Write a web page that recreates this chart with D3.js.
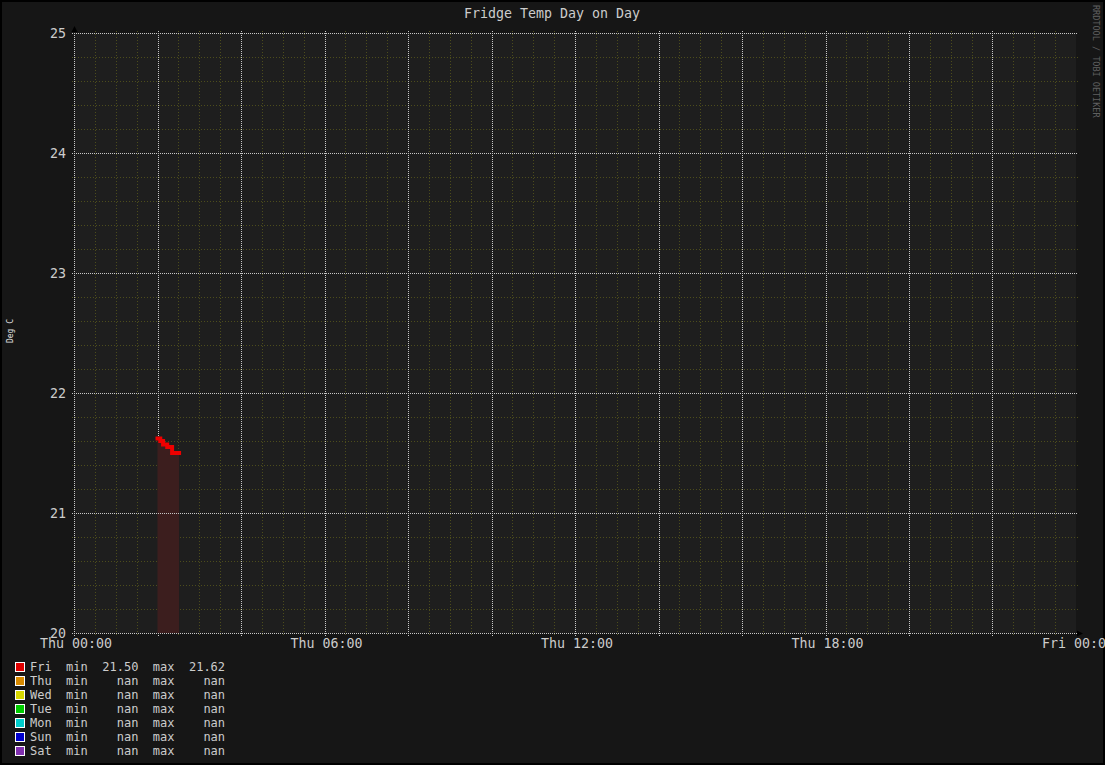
<!DOCTYPE html>
<html><head><meta charset="utf-8">
<script src="https://cdn.jsdelivr.net/npm/d3@7/dist/d3.min.js"></script>
<style>html,body{margin:0;padding:0;background:#161616;}svg{display:block;}</style>
</head><body>
<script>
const title = "Fridge Temp Day on Day";
const yLabel = "Deg C";
const watermark = "RRDTOOL / TOBI OETIKER";
const yTicks = [20, 21, 22, 23, 24, 25];
const xTickHours = [0, 6, 12, 18, 24];
const xTickLabels = ["Thu 00:00", "Thu 06:00", "Thu 12:00", "Thu 18:00", "Fri 00:00"];
// Fri series: minutes after midnight and values
const friMinutes = [120, 124, 128, 134, 141, 151];
const friValues = [21.62, 21.60, 21.57, 21.55, 21.50, 21.50];
const seriesNames = ["Fri", "Thu", "Wed", "Tue", "Mon", "Sun", "Sat"];
const seriesColors = ["#e00000", "#d88a00", "#d8d800", "#00cc00", "#00cccc", "#0000cc", "#8030b0"];
const seriesMin = ["21.50", "nan", "nan", "nan", "nan", "nan", "nan"];
const seriesMax = ["21.62", "nan", "nan", "nan", "nan", "nan", "nan"];

const W = 1105, H = 765;
const svg = d3.select("body").append("svg").attr("width", W).attr("height", H);
const FONT = "'DejaVu Sans Mono', monospace";

svg.append("rect").attr("width", W).attr("height", H).attr("fill", "#161616");
svg.append("rect").attr("x", 1).attr("y", 1).attr("width", W - 2).attr("height", H - 2)
  .attr("fill", "none").attr("stroke", "#000").attr("stroke-width", 2);

const x = d3.scaleLinear().domain([0, 24 * 60]).range([74, 1076]);
const y = d3.scaleLinear().domain([20, 25]).range([633, 33]);

svg.append("rect").attr("x", x(0)).attr("y", y(25)).attr("width", x(1440) - x(0)).attr("height", y(20) - y(25))
  .attr("fill", "#1e1e1e");

// minor grid
const minorX = d3.range(0, 1440, 30).filter(m => m % 120 !== 0);
const minorY = d3.range(20, 25.001, 0.2).filter(v => Math.abs(v - Math.round(v)) > 0.01);
const g = svg.append("g");
g.selectAll(".mx").data(minorX).join("line")
  .attr("x1", d => Math.round(x(d)) + 0.5).attr("x2", d => Math.round(x(d)) + 0.5).attr("y1", y(25) - 2).attr("y2", y(20) + 3)
  .attr("stroke", "#4c4c1c").attr("stroke-dasharray", "1,2");
g.selectAll(".my").data(minorY).join("line")
  .attr("y1", d => Math.round(y(d)) + 0.5).attr("y2", d => Math.round(y(d)) + 0.5).attr("x1", x(0) - 2).attr("x2", x(1440) + 2)
  .attr("stroke", "#4c4c1c").attr("stroke-dasharray", "1,2");

// data area + line
const pts = friMinutes.map((m, i) => [m, friValues[i]]);
const area = d3.area().x(d => x(d[0])).y0(y(20)).y1(d => y(d[1])).curve(d3.curveStepAfter);
svg.append("path").datum(pts).attr("d", area).attr("fill", "#3c1e1e");

// major grid
const majorX = d3.range(120, 1440, 120);
g.selectAll(".Mx").data(majorX).join("line")
  .attr("x1", d => Math.round(x(d)) + 0.5).attr("x2", d => Math.round(x(d)) + 0.5).attr("y1", y(25) - 2).attr("y2", y(20) + 3)
  .attr("stroke", "#c8c8c8").attr("stroke-dasharray", "1,1");
svg.append("g").selectAll("line").data(yTicks.filter(v => v > 20)).join("line")
  .attr("y1", d => y(d) + 0.5).attr("y2", d => y(d) + 0.5).attr("x1", x(0) - 2).attr("x2", x(1440) + 2)
  .attr("stroke", "#c8c8c8").attr("stroke-dasharray", "1,1");

// axes
svg.append("line").attr("x1", x(0) + 0.5).attr("x2", x(0) + 0.5).attr("y1", y(25) - 2).attr("y2", y(20) + 3)
  .attr("stroke", "#c8c8c8").attr("stroke-dasharray", "1,1");
svg.append("line").attr("x1", x(0) - 2).attr("x2", x(1440) + 2).attr("y1", y(20) + 0.5).attr("y2", y(20) + 0.5)
  .attr("stroke", "#c8c8c8").attr("stroke-dasharray", "1,1");
// arrows
svg.append("path").attr("d", `M${x(0) - 2.5},${y(25) - 1} L${x(0) + 3.5},${y(25) - 1} L${x(0) + 0.5},${y(25) - 7} Z`).attr("fill", "#000");
svg.append("path").attr("d", `M${x(1440) + 1},${y(20) - 2.5} L${x(1440) + 1},${y(20) + 3.5} L${x(1440) + 7},${y(20) + 0.5} Z`).attr("fill", "#000");

const line = d3.line().x(d => x(d[0])).y(d => y(d[1])).curve(d3.curveStepAfter);
svg.append("path").datum(pts).attr("d", line).attr("fill", "none").attr("stroke", "#ee0000")
  .attr("stroke-width", 4).attr("stroke-linejoin", "miter").attr("stroke-linecap", "square");

// tick labels
svg.append("g").selectAll("text").data(yTicks).join("text")
  .attr("x", 66).attr("y", d => y(d)).attr("dy", "0.35em").attr("text-anchor", "end")
  .attr("font-family", FONT).attr("font-size", 13.3).attr("fill", "#cccccc").text(d => d);
svg.append("g").selectAll("text").data(xTickHours).join("text")
  .attr("x", d => x(d * 60) + 2).attr("y", 648).attr("text-anchor", "middle")
  .attr("font-family", FONT).attr("font-size", 13.3).attr("fill", "#cccccc").text((d, i) => xTickLabels[i]);

// title
svg.append("text").attr("x", 552).attr("y", 18).attr("text-anchor", "middle")
  .attr("font-family", FONT).attr("font-size", 13.3).attr("fill", "#cccccc").text(title);

// y label
svg.append("text").attr("transform", "translate(13,331) rotate(-90)").attr("text-anchor", "middle")
  .attr("font-family", FONT).attr("font-size", 8).attr("fill", "#e0e0e0").text(yLabel);

// watermark
svg.append("text").attr("transform", "translate(1093,5) rotate(90)").attr("text-anchor", "start")
  .attr("font-family", FONT).attr("font-size", 8.5).attr("fill", "#606060").text(watermark);

// legend
const leg = svg.append("g").selectAll("g").data(seriesNames).join("g")
  .attr("transform", (d, i) => `translate(0,${667 + i * 14})`);
leg.append("rect").attr("x", 15.5).attr("y", -4.5).attr("width", 9).attr("height", 9)
  .attr("fill", (d, i) => seriesColors[i]).attr("stroke", "#ffffff").attr("stroke-width", 1);
const pad = s => s.padStart(5, " ");
leg.append("text").attr("x", 30).attr("y", 0).attr("dy", "0.35em")
  .attr("font-family", FONT).attr("font-size", 12).attr("fill", "#cccccc").attr("xml:space", "preserve")
  .style("white-space", "pre")
  .text((d, i) => `${d}  min  ${pad(seriesMin[i])}  max  ${pad(seriesMax[i])}`);
</script>
</body></html>
